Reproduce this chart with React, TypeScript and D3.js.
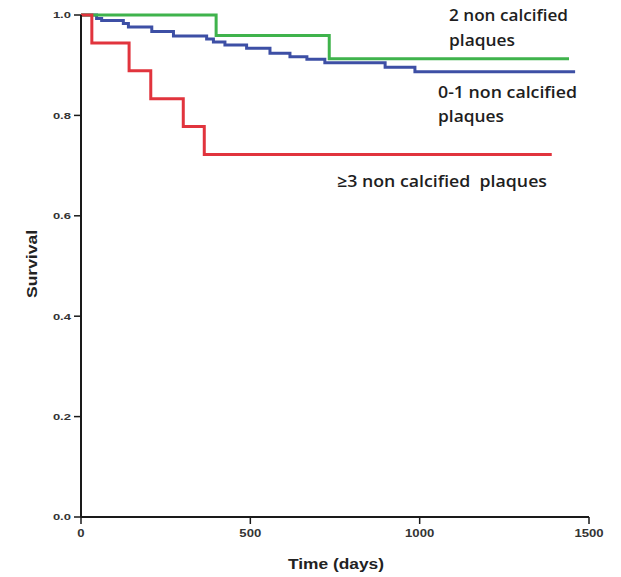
import React from "react";
import * as d3 from "d3";

const xTicks = [0, 500, 1000, 1500];
const yTicks = [0, 0.2, 0.4, 0.6, 0.8, 1.0];

const blueTimes = [0, 46, 61, 125, 140, 209, 273, 371, 391, 425, 489, 558, 617, 667, 720, 898, 986, 1459];
const blueSurv = [1, 0.993, 0.989, 0.983, 0.976, 0.967, 0.958, 0.952, 0.946, 0.94, 0.934, 0.924, 0.917, 0.912, 0.905, 0.896, 0.887, 0.887];

const greenTimes = [0, 399, 733, 1441];
const greenSurv = [1, 0.959, 0.913, 0.913];

const redTimes = [0, 32, 142, 206, 302, 364, 1390];
const redSurv = [1, 0.944, 0.889, 0.833, 0.778, 0.722, 0.722];

const series = [
  { name: "0-1", times: blueTimes, surv: blueSurv, color: "#3d4fa5" },
  { name: "2", times: greenTimes, surv: greenSurv, color: "#3fb34c" },
  { name: ">=3", times: redTimes, surv: redSurv, color: "#e1343d" },
];

const annotations = [
  { text: "2 non calcified", x: 449, y: 21, w: 119 },
  { text: "plaques", x: 449, y: 46, w: 66 },
  { text: "0-1 non calcified", x: 438, y: 98, w: 139 },
  { text: "plaques", x: 438, y: 122, w: 66 },
  { text: "≥3 non calcified  plaques", x: 337, y: 187, w: 210 },
];

const W = 621;
const H = 577;

export default function App() {
  const x = d3.scaleLinear().domain([0, 1500]).range([81, 589]);
  const y = d3.scaleLinear().domain([0, 1]).range([517, 15]);
  const fmtY = d3.format(".1f");
  const labelLen = (s: string) =>
    s.split("").reduce((a, c) => a + (c === "." ? 3.5 : 7.3), 0);

  const line = d3
    .line<[number, number]>()
    .x((d) => x(d[0]))
    .y((d) => y(d[1]))
    .curve(d3.curveStepAfter);

  return (
    <div style={{ position: "absolute", left: 0, top: 0 }}>
      <svg width={W} height={H} style={{ display: "block", background: "#fff" }}>
        {series.map((s) => (
          <path
            key={s.name}
            d={line(s.times.map((t, i) => [t, s.surv[i]] as [number, number])) || ""}
            fill="none"
            stroke={s.color}
            strokeWidth={3}
          />
        ))}
        {/* axes */}
        <line x1={x(0)} x2={x(0)} y1={y(0)} y2={y(1)} stroke="#1a1a1a" strokeWidth={2} />
        <line x1={x(0)} x2={x(1500)} y1={y(0)} y2={y(0)} stroke="#1a1a1a" strokeWidth={2} />
        {yTicks.map((t) => (
          <g key={"y" + t}>
            <line x1={x(0) - 7} x2={x(0)} y1={y(t)} y2={y(t)} stroke="#1a1a1a" strokeWidth={1.5} />
            <text
              x={71}
              y={y(t)}
              dy="0.35em"
              textAnchor="end"
              fontFamily="Arial, 'Liberation Sans', sans-serif"
              fontWeight="bold"
              fontSize={9.5}
              fill="#333"
              textLength={labelLen(fmtY(t))}
              lengthAdjust="spacingAndGlyphs"
            >
              {fmtY(t)}
            </text>
          </g>
        ))}
        {xTicks.map((t) => (
          <g key={"x" + t}>
            <line x1={x(t)} x2={x(t)} y1={y(0)} y2={y(0) + 7} stroke="#1a1a1a" strokeWidth={1.5} />
            <text
              x={x(t)}
              y={537}
              textAnchor="middle"
              fontFamily="Arial, 'Liberation Sans', sans-serif"
              fontWeight="bold"
              fontSize={10.5}
              fill="#333"
              textLength={labelLen(String(t))}
              lengthAdjust="spacingAndGlyphs"
            >
              {String(t)}
            </text>
          </g>
        ))}
        <text
          x={336}
          y={569}
          textAnchor="middle"
          fontFamily="Arial, 'Liberation Sans', sans-serif"
          fontWeight="bold"
          fontSize={14}
          fill="#222"
          textLength={96}
          lengthAdjust="spacingAndGlyphs"
        >
          Time (days)
        </text>
        <text
          transform={`translate(37,264) rotate(-90)`}
          textAnchor="middle"
          fontFamily="Arial, 'Liberation Sans', sans-serif"
          fontWeight="bold"
          fontSize={14}
          fill="#222"
          textLength={68}
          lengthAdjust="spacingAndGlyphs"
        >
          Survival
        </text>
        {annotations.map((a, i) => (
          <text
            key={i}
            x={a.x}
            y={a.y}
            fontFamily="'Open Sans', 'Noto Sans', sans-serif"
            fontWeight={600}
            fontSize={16.5}
            fill="#1e1e1e"
            textLength={a.w}
            lengthAdjust="spacingAndGlyphs"
            style={{ whiteSpace: "pre" }}
          >
            {a.text}
          </text>
        ))}
      </svg>
    </div>
  );
}
